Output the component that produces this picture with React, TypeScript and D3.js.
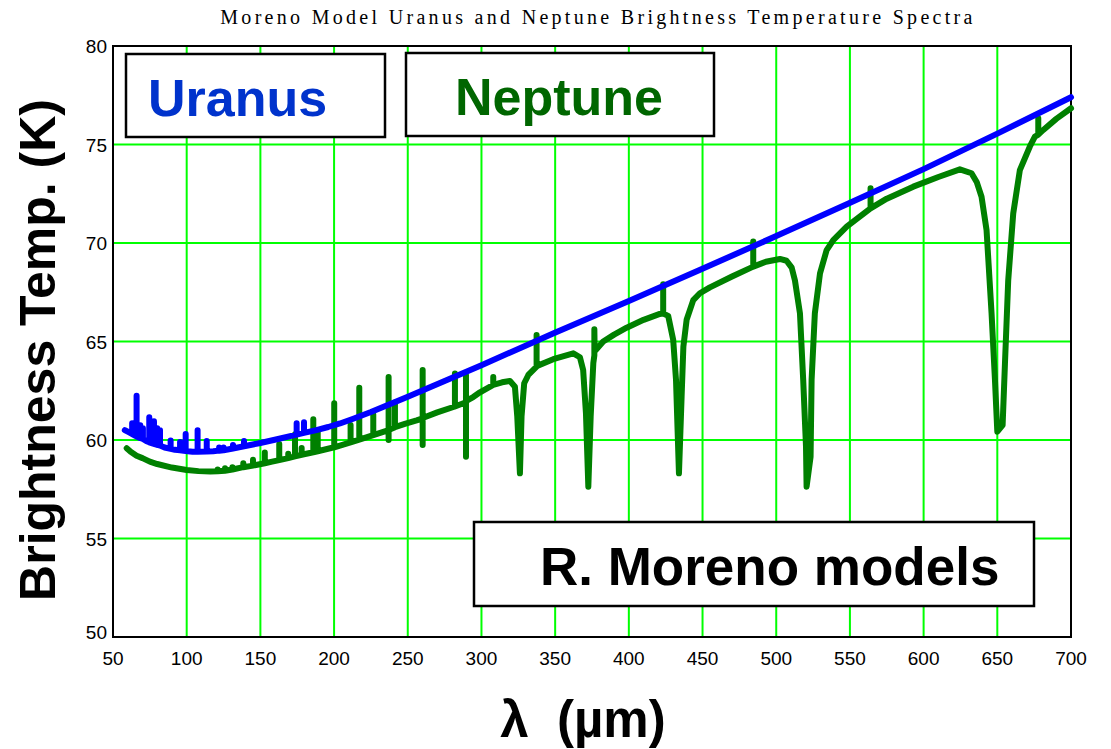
import React from "react";
import * as d3 from "d3";

const titleText = "Moreno Model Uranus and Neptune Brightness Temperature Spectra";
const xTicks = [50, 100, 150, 200, 250, 300, 350, 400, 450, 500, 550, 600, 650, 700];
const yTicks = [50, 55, 60, 65, 70, 75, 80];

// Uranus model spectrum: [wavelength (µm), brightness temperature (K)]
const uranus: [number, number][] = [
  [58, 60.5], [60, 60.42], [62.5, 60.32], [63, 60.3], [63, 60.85], [63, 60.3],
  [65.5, 60.2], [66, 60.18], [66, 62.25], [66, 60.18], [68.3, 60.1], [68.5, 60.1], [68.5, 60.75], [68.5, 60.1],
  [70.3, 60.05], [70.3, 60.6], [70.3, 60.05], [72.5, 59.95], [74.6, 59.88], [74.6, 61.15], [74.6, 59.88],
  [76.2, 59.84], [76.2, 60.7], [76.2, 59.84],
  [77.8, 59.8], [77.8, 60.95], [77.8, 59.8], [80, 59.75], [80, 60.6], [80, 59.75], [81.9, 59.72], [81.9, 60.5], [81.9, 59.72], [85, 59.62],
  [89.1, 59.55], [89.1, 59.97], [89.1, 59.55], [92, 59.5], [95.5, 59.48], [95.5, 59.9], [95.5, 59.48],
  [99.3, 59.44], [99.3, 60.3], [99.3, 59.44], [104, 59.4], [107.4, 59.4], [107.4, 60.5], [107.4, 59.4],
  [113.6, 59.41], [113.6, 59.95], [113.6, 59.41], [118, 59.43], [122, 59.46], [122, 59.62], [122, 59.46],
  [125, 59.48], [125, 59.62], [125, 59.48], [131.4, 59.57], [131.4, 59.74], [131.4, 59.57],
  [138.9, 59.68], [138.9, 59.95], [138.9, 59.68], [150, 59.85], [162, 60.05],
  [174.6, 60.27], [174.6, 60.85], [174.6, 60.27], [179.6, 60.36], [179.6, 60.9], [179.6, 60.36],
  [188, 60.5], [196, 60.66], [204, 60.84], [213, 61.08], [225, 61.42], [250, 62.2], [275, 63.0], [300, 63.8],
  [349, 65.42], [400, 67.05], [448, 68.63], [500, 70.35], [549, 72.0], [600, 73.75], [650, 75.55], [700, 77.4],
];

// Neptune model spectrum: [wavelength (µm), brightness temperature (K)]
const neptune: [number, number][] = [
  [59.3, 59.58], [62, 59.4], [66, 59.2], [70, 59.08], [75, 58.9], [80, 58.78], [90, 58.6], [100, 58.48],
  [108, 58.42], [116, 58.4], [121, 58.41], [121, 58.5], [121, 58.41], [126, 58.44], [126, 58.56], [126, 58.44],
  [131, 58.5], [131, 58.62], [131, 58.5], [138.4, 58.62], [138.4, 58.82], [138.4, 58.62],
  [145, 58.7], [145, 59.0], [145, 58.7], [153, 58.82], [153, 59.36], [153, 58.82],
  [158, 58.9], [162.8, 58.98], [162.8, 59.8], [162.8, 58.98], [168.9, 59.08], [168.9, 59.3], [168.9, 59.08],
  [173.5, 59.17], [173.5, 60.29], [173.5, 59.17], [178, 59.25], [178, 59.6], [178, 59.25],
  [185.9, 59.38], [185.9, 61.05], [185.9, 59.38], [188.9, 59.43], [188.9, 60.5], [188.9, 59.43],
  [200.1, 59.63], [200.1, 61.86], [200.1, 59.63], [211.2, 59.88], [211.2, 60.76], [211.2, 59.88],
  [217.1, 60.02], [217.1, 62.65], [217.1, 60.02], [226.6, 60.25], [226.6, 61.3], [226.6, 60.25],
  [237, 60.5], [237, 63.2], [237, 60.0], [237, 60.5], [241.3, 60.65], [241.3, 61.9], [241.3, 60.65],
  [248, 60.82], [256, 61.0], [260.1, 61.1], [260.1, 63.55], [260.1, 59.75], [260.1, 61.12], [270, 61.4],
  [282, 61.7], [282, 63.38], [282, 61.7], [289.5, 61.92], [289.5, 63.3], [289.5, 59.15], [289.5, 61.98],
  [294.4, 62.18], [299, 62.42], [308, 62.8], [308, 63.2], [308, 62.8], [314, 62.93], [319.3, 63.0],
  [322.7, 62.7], [324.3, 61.18], [326.1, 58.31], [327.2, 61.2], [329, 62.88], [331.8, 63.3], [337.4, 63.72],
  [337.4, 65.33], [337.4, 63.75], [348.7, 64.1], [362.3, 64.4], [366.8, 64.2],
  [369, 63.55], [370.9, 61.35], [372.5, 57.63], [374.1, 61.2], [375.9, 63.9], [376.6, 64.3], [376.6, 65.62],
  [376.8, 64.5], [382.6, 65.0], [390, 65.35], [398.5, 65.7], [410, 66.1], [421, 66.4],
  [423.3, 66.42], [423.3, 67.9], [423.3, 66.42], [426.7, 66.3], [430.1, 65.08], [432, 63.05], [434, 58.31],
  [435.8, 62.2], [437, 64.74], [439.2, 66.1], [443.7, 67.1], [448.2, 67.45], [455, 67.75], [470, 68.3],
  [484.4, 68.8], [484.4, 70.07], [484.4, 68.8], [493, 69.05], [502.5, 69.19], [507, 69.1], [510.5, 68.75],
  [512.7, 68.1], [516.1, 66.43], [518.3, 63.05], [520.2, 59.66], [520.6, 57.63], [523.3, 59.15], [524, 63.05],
  [526.2, 66.43], [529.7, 68.46], [534.2, 69.64], [538.7, 70.15], [547.8, 70.83], [556, 71.3],
  [564, 71.76], [564, 72.78], [564, 71.76], [575, 72.25], [593, 72.86], [610, 73.35], [624.6, 73.74],
  [632.5, 73.54], [636, 73.1], [639.3, 72.35], [642.7, 70.66], [646.1, 66.43], [648.4, 63.05], [650, 60.42],
  [653.6, 60.76], [655.2, 63.9], [657.4, 68.1], [660.8, 71.5], [665.3, 73.7], [672.1, 74.9], [675.5, 75.4],
  [677.8, 75.5], [677.8, 76.33], [677.8, 75.5], [681.2, 75.74], [690, 76.3], [700, 76.84],
];

const W = 1111;
const H = 749;
const m = { left: 113, top: 46, right: 1071, bottom: 637 };

export default function App() {
  const x = d3.scaleLinear().domain([50, 700]).range([m.left, m.right]);
  const y = d3.scaleLinear().domain([50, 80]).range([m.bottom, m.top]);
  const line = d3
    .line<[number, number]>()
    .x((d) => x(d[0]))
    .y((d) => y(d[1]))
    .curve(d3.curveLinear);

  const sans = "'Liberation Sans', Arial, sans-serif";

  return (
    <svg width={W} height={H} style={{ position: "absolute", left: 0, top: 0, background: "#fff" }}>
      <rect x={0} y={0} width={W} height={H} fill="#fff" />
      <text
        x={598}
        y={24}
        textAnchor="middle"
        fontFamily="'Liberation Serif', 'DejaVu Serif', serif"
        fontSize={20}
        letterSpacing={3.3}
        fill="#000"
      >
        {titleText}
      </text>

      {/* grid */}
      {xTicks.slice(1, -1).map((t) => (
        <line key={"gx" + t} x1={x(t)} x2={x(t)} y1={m.top} y2={m.bottom} stroke="#00ff00" strokeWidth={2} />
      ))}
      {yTicks.slice(1, -1).map((t) => (
        <line key={"gy" + t} x1={m.left} x2={m.right} y1={y(t)} y2={y(t)} stroke="#00ff00" strokeWidth={2} />
      ))}

      {/* plot frame */}
      <rect
        x={m.left}
        y={m.top}
        width={m.right - m.left}
        height={m.bottom - m.top}
        fill="none"
        stroke="#000"
        strokeWidth={2}
      />

      {/* tick labels */}
      {yTicks.map((t) => (
        <text
          key={"yt" + t}
          x={m.left - 6}
          y={y(t) + (t === 50 ? 2 : 7)}
          textAnchor="end"
          fontFamily={sans}
          fontSize={19}
          fill="#000"
        >
          {t}
        </text>
      ))}
      {xTicks.map((t) => (
        <text
          key={"xt" + t}
          x={x(t)}
          y={m.bottom + 28}
          textAnchor="middle"
          fontFamily={sans}
          fontSize={19}
          fill="#000"
        >
          {t}
        </text>
      ))}

      {/* series */}
      <path d={line(neptune) || ""} fill="none" stroke="#008000" strokeWidth={6} strokeLinejoin="round" strokeLinecap="round" />
      <path d={line(uranus) || ""} fill="none" stroke="#0000ff" strokeWidth={6} strokeLinejoin="round" strokeLinecap="round" />

      {/* label boxes */}
      <rect x={126} y={54} width={259} height={83} fill="#fff" stroke="#000" strokeWidth={2.5} />
      <text x={148} y={116} fontFamily={sans} fontWeight="bold" fontSize={52} fill="#0033cc">
        Uranus
      </text>
      <rect x={406} y={53} width={308} height={83} fill="#fff" stroke="#000" strokeWidth={2.5} />
      <text x={455} y={115} fontFamily={sans} fontWeight="bold" fontSize={52} fill="#006600">
        Neptune
      </text>
      <rect x={474} y={522} width={560} height={84} fill="#fff" stroke="#000" strokeWidth={2.5} />
      <text x={540} y={585} fontFamily={sans} fontWeight="bold" fontSize={53} fill="#000">
        R. Moreno models
      </text>

      {/* axis titles */}
      <text
        transform={`translate(55, 350) rotate(-90)`}
        textAnchor="middle"
        fontFamily={sans}
        fontWeight="bold"
        fontSize={50}
        fill="#000"
      >
        Brightness Temp.  (K)
      </text>
      <text x={583} y={737} textAnchor="middle" fontFamily={sans} fontWeight="bold" fontSize={51} fill="#000" xmlSpace="preserve">
        λ  (µm)
      </text>
    </svg>
  );
}
